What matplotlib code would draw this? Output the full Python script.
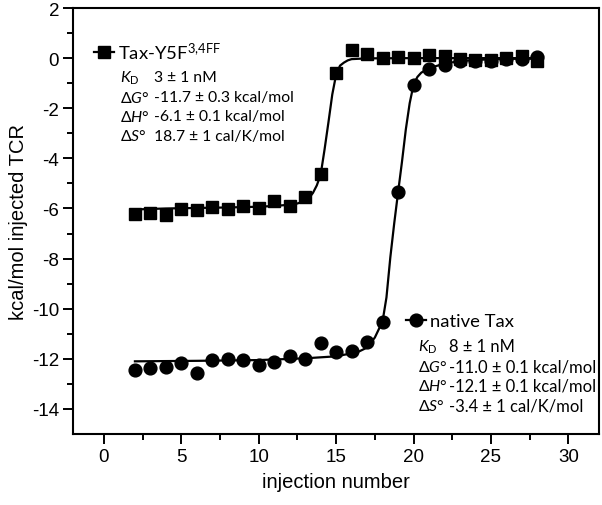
import matplotlib
matplotlib.use("Agg")
import matplotlib.pyplot as plt
from matplotlib.lines import Line2D

# ---- data ----
inj = list(range(2, 29))
tax_y5f = [-6.22, -6.18, -6.26, -6.02, -6.06, -5.94, -6.02, -5.90, -5.99, -5.69,
           -5.90, -5.55, -4.62, -0.61, 0.34, 0.15, -0.01, 0.03, 0.00, 0.13,
           0.10, -0.05, -0.06, -0.06, 0.00, 0.10, -0.11]
native_tax = [-12.43, -12.38, -12.34, -12.18, -12.57, -12.05, -12.01, -12.03, -12.25,
              -12.13, -11.88, -12.02, -11.38, -11.74, -11.68, -11.34, -10.52, -5.36,
              -1.06, -0.43, -0.28, -0.10, -0.12, -0.10, -0.04, -0.04, 0.03]

# fitted curves
fit_y5f_x = [2, 4, 6, 8, 10, 11, 12, 12.5, 13, 13.25, 13.5, 13.75, 14, 14.25, 14.5,
             14.75, 15, 15.25, 15.5, 15.75, 16, 17, 20, 28]
fit_y5f_y = [-6.04, -6.0, -5.98, -5.96, -5.93, -5.9, -5.85, -5.8, -5.7, -5.58, -5.38,
             -5.08, -4.65, -3.65, -2.57, -1.45, -0.65, -0.3, -0.18, -0.09, -0.04,
             -0.01, 0.0, 0.0]
fit_nat_x = [2, 6, 10, 13, 15, 16, 16.5, 17, 17.5, 18, 18.25, 18.5, 18.75, 19, 19.25,
             19.5, 19.75, 20, 20.25, 20.5, 21, 22, 23, 24, 26, 28]
fit_nat_y = [-12.1, -12.08, -12.05, -11.98, -11.9, -11.78, -11.7, -11.55, -11.15,
             -10.5, -9.55, -7.95, -6.6, -5.36, -4.15, -2.85, -1.8, -1.06, -0.75,
             -0.58, -0.4, -0.22, -0.12, -0.07, -0.03, -0.02]

xticks = [0, 5, 10, 15, 20, 25, 30]
yticks = [2, 0, -2, -4, -6, -8, -10, -12, -14]

label_y5f = r"Tax-Y5F$^{\mathrm{3{,}4FF}}$"
label_nat = "native Tax"
params_y5f = ["3 ± 1 nM", "-11.7 ± 0.3 kcal/mol", "-6.1 ± 0.1 kcal/mol", "18.7 ± 1 cal/K/mol"]
params_nat = ["8 ± 1 nM", "-11.0 ± 0.1 kcal/mol", "-12.1 ± 0.1 kcal/mol", "-3.4 ± 1 cal/K/mol"]
param_names = [r"$\mathit{K}_{\mathrm{D}}$", r"Δ$\mathit{G}$°", r"Δ$\mathit{H}$°", r"Δ$\mathit{S}$°"]

# ---- style ----
plt.rcParams['font.family'] = ['Liberation Sans', 'DejaVu Sans']
plt.rcParams['axes.unicode_minus'] = False
plt.rcParams['mathtext.fontset'] = 'custom'
plt.rcParams['mathtext.rm'] = 'Lato'
plt.rcParams['mathtext.it'] = 'Lato:italic'

fig = plt.figure(figsize=(6.02, 5.06), dpi=100)
ax = fig.add_axes([73/602, 71/506, 526.3/602, 426/506])

ax.plot(fit_y5f_x, fit_y5f_y, color='black', lw=1.6, zorder=2)
ax.plot(fit_nat_x, fit_nat_y, color='black', lw=1.6, zorder=2)
ax.plot(inj, tax_y5f, ls='none', marker='s', ms=8.6, color='black', zorder=3)
ax.plot(inj, native_tax, ls='none', marker='o', ms=9.2, color='black', zorder=3)

ax.set_xlim(-2, 32)
ax.set_ylim(-15, 2)
ax.set_xticks(xticks)
ax.set_yticks(yticks)
ax.set_xticks([2.5, 7.5, 12.5, 17.5, 22.5, 27.5], minor=True)
ax.set_yticks([1, -1, -3, -5, -7, -9, -11, -13], minor=True)
ax.tick_params(which='major', direction='out', length=7, width=1.4, labelsize=13.5, pad=3,
               top=False, right=False)
ax.tick_params(which='minor', direction='out', length=4, width=1.4, top=False, right=False)
for s in ax.spines.values():
    s.set_linewidth(1.5)

ax.set_xlabel("injection number", fontsize=14.5, labelpad=5)
ax.set_ylabel("kcal/mol injected TCR", fontsize=14.5, labelpad=3)

# ---- legends ----
tf = {'family': ['Lato', 'DejaVu Sans']}
h1 = Line2D([], [], color='black', lw=1.6, marker='s', ms=8.6)
h2 = Line2D([], [], color='black', lw=1.6, marker='o', ms=9.2)
leg1 = ax.legend([h1], [label_y5f], loc='center left', bbox_to_anchor=(0.040, 0.899),
                 frameon=False, handlelength=1.1, handletextpad=0.2, borderpad=0,
                 borderaxespad=0, prop={'family': 'Lato', 'size': 13.3})
ax.add_artist(leg1)
leg2 = ax.legend([h2], [label_nat], loc='center left', bbox_to_anchor=(0.632, 0.265),
                 frameon=False, handlelength=1.1, handletextpad=0.2, borderpad=0,
                 borderaxespad=0, prop={'family': 'Lato', 'size': 13.3})

fs1 = 11.3
fs2 = 11.9
rows1 = [0.838, 0.791, 0.746, 0.700]
rows2 = [0.207, 0.158, 0.113, 0.066]
for name, val, y in zip(param_names, params_y5f, rows1):
    ax.text(0.089, y, name, transform=ax.transAxes, va='center', ha='left', fontsize=fs1, fontdict=tf)
    ax.text(0.154, y, val, transform=ax.transAxes, va='center', ha='left', fontsize=fs1, fontdict=tf)
for name, val, y in zip(param_names, params_nat, rows2):
    ax.text(0.656, y, name, transform=ax.transAxes, va='center', ha='left', fontsize=fs1, fontdict=tf)
    ax.text(0.714, y, val, transform=ax.transAxes, va='center', ha='left', fontsize=fs2, fontdict=tf)

fig.savefig("out.png", dpi=100)
